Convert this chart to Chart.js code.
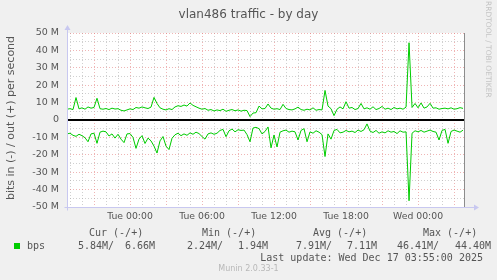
<!DOCTYPE html>
<html lang="en">
<head>
    <meta charset="UTF-8">
    <title>vlan486 traffic - by day</title>
    <script src="https://cdn.jsdelivr.net/npm/chart.js"></script>
    <style>
        body { margin: 0; background: #f0f0f0; }
        #wrap { position: relative; width: 497px; height: 280px; overflow: hidden; }
        .txt { position: absolute; white-space: pre; color: #555; }
        .mono { font-family: "DejaVu Sans Mono", monospace; font-size: 10px; line-height: 12px; }
    </style>
</head>
<body>
    <div id="wrap">
        <canvas id="chart" width="497" height="280"></canvas>
        <div class="txt" id="title" style="left:0;top:6px;width:497px;text-align:center;font:12px 'DejaVu Sans';line-height:16px;"></div>
        <div class="txt" id="ylabel" style="left:-79px;top:112px;width:180px;text-align:center;font:11px 'DejaVu Sans';line-height:12px;transform:rotate(-90deg);"></div>
        <div class="txt" style="left:430px;top:55px;width:116px;text-align:left;font:7.5px 'DejaVu Sans';line-height:8px;color:#c4c4c4;transform:rotate(90deg);">RRDTOOL / TOBI OETIKER</div>
        <div id="legend"></div>
        <div class="txt" id="footer" style="left:0;top:264px;width:497px;text-align:center;font:8px 'DejaVu Sans';line-height:10px;color:#b8b8b8;"></div>
    </div>

    <script>
        const chartTitle = 'vlan486 traffic - by day';
        const yAxisTitle = 'bits in (-) / out (+) per second';
        const seriesName = 'bps';

        // x is hours after Tue 00:00, one sample every 15 minutes
        const startHour = -5.25;
        const stepHours = 0.25;
        const xTickHours = [0, 6, 12, 18, 24];
        const xTickLabels = ['Tue 00:00', 'Tue 06:00', 'Tue 12:00', 'Tue 18:00', 'Wed 00:00'];
        const yTickValues = [50, 40, 30, 20, 10, 0, -10, -20, -30, -40, -50];

        // Mbit/s
        const bpsOut = [
            6.2, 6.5, 6.0, 12.9, 6.4, 7.0, 6.2, 7.5, 6.8, 7.2,
            12.5, 6.5, 6.2, 6.6, 6.0, 6.8, 6.3, 6.5, 5.6, 5.2,
            5.8, 6.4, 6.0, 7.2, 6.8, 7.5, 7.0, 6.6, 7.4, 13.0,
            9.5, 7.0, 6.2, 5.8, 6.5, 6.0, 7.5, 8.2, 7.8, 8.6,
            8.0, 9.8, 8.4, 7.6, 6.8, 6.2, 6.6, 5.6, 6.0, 5.2,
            5.8, 5.4, 6.2, 5.0, 5.6, 6.0, 5.3, 5.8, 5.1, 5.6,
            5.4, 1.94, 4.0, 4.2, 8.0, 6.4, 6.6, 9.2, 6.8, 6.2,
            6.5, 6.0, 9.0, 6.6, 6.0, 5.8, 6.4, 7.4, 6.0, 5.6,
            6.2, 5.8, 7.0, 5.6, 6.0, 5.8, 17.0, 8.0, 6.5, 2.5,
            6.2, 7.5, 6.4, 10.5, 6.8, 7.2, 6.0, 6.6, 9.5, 6.4,
            7.0, 6.2, 7.6, 6.0, 6.6, 7.8, 6.2, 6.8, 6.0, 7.2,
            6.4, 6.8, 6.2, 7.4, 44.4, 7.2, 9.5, 7.0, 9.8, 6.8,
            7.5, 9.6, 6.8, 7.0, 6.2, 6.6, 6.8, 6.4, 7.0, 6.2,
            6.5, 7.1, 6.66
        ];
        // drawn below zero
        const bpsIn = [
            8.0, 7.6, 8.8, 9.4, 8.2, 9.0, 10.2, 12.5, 8.0, 7.6,
            13.4, 7.0, 6.4, 6.8, 9.2, 8.0, 10.4, 8.2, 11.0, 13.0,
            8.0, 7.8, 10.0, 16.3, 11.0, 9.0, 13.5, 10.4, 12.0, 15.0,
            19.0, 12.0, 9.5, 15.0, 17.0, 10.5, 8.5, 7.6, 9.0, 8.0,
            8.8, 7.4, 8.2, 7.0, 7.8, 9.5, 11.0, 8.0, 7.4, 8.2,
            7.6, 6.0, 5.4, 9.6, 6.2, 5.2, 6.8, 5.6, 6.0, 5.8,
            8.4, 12.5, 4.6, 4.2, 5.0, 8.0, 6.6, 4.0, 16.0, 8.6,
            15.5, 7.0, 6.2, 5.8, 7.0, 6.4, 6.8, 11.5, 6.0, 5.0,
            12.5, 6.8, 7.6, 6.2, 7.0, 8.4, 21.0, 8.0, 11.0, 6.0,
            5.4, 7.4, 7.0, 6.0, 6.8, 6.4, 7.2, 5.8, 6.6, 5.6,
            2.24, 6.4, 7.2, 6.0, 7.6, 6.8, 7.4, 6.2, 7.0, 6.6,
            7.8, 6.2, 7.0, 6.8, 46.41, 7.6, 6.2, 6.8, 6.0, 7.0,
            6.4, 5.8, 6.6, 7.0, 11.5, 6.0, 5.4, 13.4, 6.6, 5.8,
            6.4, 7.0, 5.84
        ];

        const statNames = ['Cur', 'Min', 'Avg', 'Max'];
        const statIn = [5.84, 2.24, 7.91, 46.41];
        const statOut = [6.66, 1.94, 7.11, 44.40];
        const lastUpdate = 'Last update: Wed Dec 17 03:55:00 2025';
        const version = 'Munin 2.0.33-1';

        const green = '#00cc00';

        document.getElementById('title').textContent = chartTitle;
        document.getElementById('ylabel').textContent = yAxisTitle;
        document.getElementById('footer').textContent = version;

        // legend table (rrdtool style)
        const legend = document.getElementById('legend');
        const addText = (text, left, top, cls) => {
            const d = document.createElement('div');
            d.className = 'txt mono';
            d.style.left = left + 'px';
            d.style.top = top + 'px';
            d.textContent = text;
            legend.appendChild(d);
            return d;
        };
        const headLeft = [89, 202, 313, 423];
        const inLeft = [78, 187, 296, 397];
        const outLeft = [125, 238, 347, 455];
        statNames.forEach((name, i) => {
            addText(name + ' (-/+)', headLeft[i], 227);
            addText(statIn[i].toFixed(2) + 'M/', inLeft[i], 240);
            addText(statOut[i].toFixed(2) + 'M', outLeft[i], 240);
        });
        const sw = document.createElement('div');
        sw.style.cssText = 'position:absolute;left:14px;top:243px;width:6px;height:6px;background:' + green;
        legend.appendChild(sw);
        addText(seriesName, 27, 240);
        const lu = addText(lastUpdate, 0, 252);
        lu.style.left = 'auto';
        lu.style.right = '14px';

        const toPoints = (arr, sign) => arr.map((v, i) => ({ x: startHour + i * stepHours, y: sign * v }));

        const majorGrid = 'rgba(225,120,120,0.55)';
        const minorGrid = 'rgba(170,170,170,0.55)';
        const axisBlue = '#c8c8f0';

        const decor = {
            id: 'decor',
            beforeDraw(chart) {
                const { ctx, chartArea } = chart;
                ctx.save();
                ctx.fillStyle = '#ffffff';
                ctx.fillRect(chartArea.left, chartArea.top, chartArea.right - chartArea.left, chartArea.bottom - chartArea.top);
                ctx.restore();
            },
            afterDatasetsDraw(chart) {
                const { ctx, chartArea, scales } = chart;
                const y0 = scales.y.getPixelForValue(0);
                ctx.save();
                ctx.fillStyle = '#000000';
                ctx.fillRect(chartArea.left, Math.round(y0) - 1, chartArea.right - chartArea.left, 2);
                // "now" line at the right edge
                ctx.fillStyle = '#8c8c8c';
                ctx.fillRect(Math.round(chartArea.right), chartArea.top, 1, chartArea.bottom - chartArea.top);
                // axis lines with arrows
                ctx.strokeStyle = axisBlue;
                ctx.fillStyle = axisBlue;
                ctx.lineWidth = 1;
                const l = Math.round(chartArea.left) + 0.5;
                const b = Math.round(chartArea.bottom) + 0.5;
                ctx.beginPath();
                ctx.moveTo(l, b + 3);
                ctx.lineTo(l, chartArea.top - 4);
                ctx.moveTo(l - 3, b);
                ctx.lineTo(chartArea.right + 11, b);
                ctx.stroke();
                ctx.beginPath();
                ctx.moveTo(l - 3, chartArea.top - 3);
                ctx.lineTo(l + 3, chartArea.top - 3);
                ctx.lineTo(l, chartArea.top - 8);
                ctx.closePath();
                ctx.fill();
                ctx.beginPath();
                ctx.moveTo(chartArea.right + 10, b - 3);
                ctx.lineTo(chartArea.right + 10, b + 3);
                ctx.lineTo(chartArea.right + 15, b);
                ctx.closePath();
                ctx.fill();
                ctx.restore();
            }
        };

        new Chart(document.getElementById('chart'), {
            type: 'line',
            data: {
                datasets: [
                    { label: seriesName + ' out', data: toPoints(bpsOut, 1), borderColor: green, borderWidth: 1, pointRadius: 0, tension: 0 },
                    { label: seriesName + ' in', data: toPoints(bpsIn, -1), borderColor: green, borderWidth: 1, pointRadius: 0, tension: 0 }
                ]
            },
            options: {
                responsive: false,
                animation: false,
                events: [],
                layout: { padding: { left: 0, top: 33, right: 33, bottom: 53 } },
                plugins: { legend: { display: false }, title: { display: false }, tooltip: { enabled: false } },
                scales: {
                    x: {
                        type: 'linear',
                        min: startHour,
                        max: startHour + 33.08,
                        afterBuildTicks: (axis) => {
                            const ticks = [];
                            for (let h = -5; h <= 27; h++) ticks.push({ value: h });
                            axis.ticks = ticks;
                        },
                        afterFit: (scale) => { scale.height = 20; },
                        ticks: {
                            autoSkip: false,
                            maxRotation: 0,
                            padding: 4,
                            color: '#555',
                            font: { family: 'DejaVu Sans', size: 9.3 },
                            callback: (v) => {
                                const k = xTickHours.indexOf(v);
                                return k >= 0 ? xTickLabels[k] : '';
                            }
                        },
                        grid: {
                            drawTicks: false,
                            color: (c) => (c.tick && c.tick.value % 3 === 0) ? majorGrid : minorGrid
                        },
                        border: { display: false, dash: [1, 2] }
                    },
                    y: {
                        min: -50,
                        max: 50,
                        afterBuildTicks: (axis) => {
                            const ticks = [];
                            for (let v = -50; v <= 50; v += 5) ticks.push({ value: v });
                            axis.ticks = ticks;
                        },
                        afterFit: (scale) => { scale.width = 67; },
                        ticks: {
                            autoSkip: false,
                            padding: 8,
                            color: '#555',
                            font: { family: 'DejaVu Sans', size: 9.5 },
                            callback: (v) => {
                                if (!yTickValues.includes(v)) return '';
                                return v === 0 ? '0' : v + ' M';
                            }
                        },
                        grid: {
                            drawTicks: false,
                            color: (c) => (c.tick && c.tick.value % 10 === 0) ? majorGrid : minorGrid
                        },
                        border: { display: false, dash: [1, 2] }
                    }
                }
            },
            plugins: [decor]
        });
    </script>
</body>
</html>
